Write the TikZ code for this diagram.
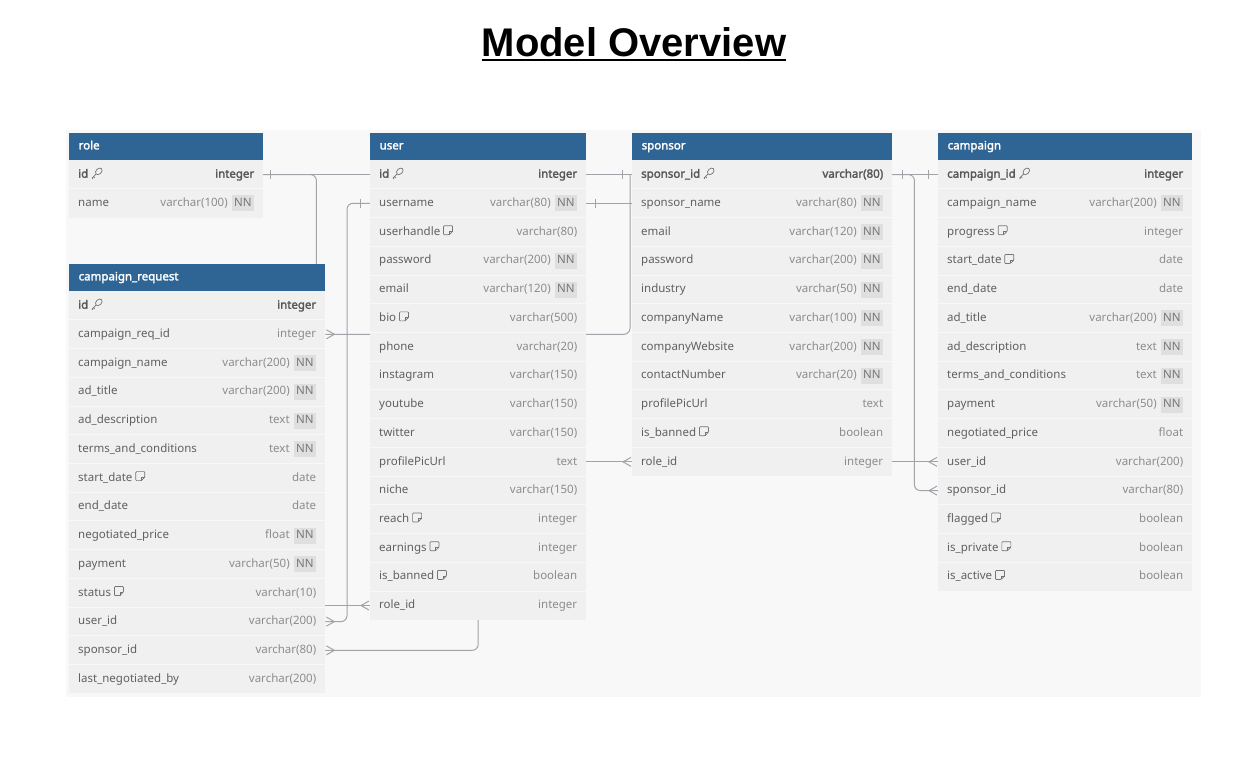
\documentclass[tikz,border=0pt]{standalone}
\usepackage{fontspec}
\setmainfont{Noto Sans}
\newfontfamily\notobold{Noto Sans}[FakeBold=2.2]
\newfontfamily\titlefont{Liberation Sans}
\usetikzlibrary{calc}
\pgfdeclarelayer{bgpage}
\pgfdeclarelayer{lines}
\pgfsetlayers{bgpage,lines,main}
\definecolor{hdrblue}{HTML}{2F6594}
\definecolor{bodyfill}{HTML}{F0F0F0}
\definecolor{pagefill}{HTML}{F8F8F8}
\definecolor{sepcol}{HTML}{F8F8F8}
\definecolor{namecol}{HTML}{606060}
\definecolor{typecol}{HTML}{8C8C8C}
\definecolor{pkcol}{HTML}{585858}
\definecolor{nnbg}{HTML}{DFDFDF}
\definecolor{nncol}{HTML}{777777}
\definecolor{iconcol}{HTML}{757575}
\definecolor{conncol}{HTML}{A0A4A8}
\catcode`\_=12
\tikzset{
  hdr/.style={fill=hdrblue, draw=none, inner sep=0pt, minimum height=27pt},
  hdrtext/.style={text=white, font=\fontsize{11.5}{14}\notobold, inner sep=0pt},
  rowbox/.style={fill=bodyfill, draw=none, inner sep=0pt, minimum height=28.73pt},
  sepline/.style={draw=sepcol, line width=0.8pt},
  fname/.style={text=namecol, font=\fontsize{11.5}{14}\selectfont, inner sep=0pt},
  ftype/.style={text=typecol, font=\fontsize{11.5}{14}\selectfont, inner sep=0pt},
  icon/.style={draw=iconcol, line width=0.7pt},
  conn/.style={draw=conncol, line width=1pt},
  crowR/.pic={\draw[conn] (0,-4.5) -- (8,0) -- (0,4.5);},
  crowL/.pic={\draw[conn] (0,-4.5) -- (-8,0) -- (0,4.5);},
  onetick/.pic={\draw[conn] (0,-4.5) -- (0,4.5);},
}
\newcommand\IKey{\hspace{3.5pt}\tikz[baseline=0pt,x=1pt,y=1pt]{\draw[icon, rotate around={45:(7.2,6.4)}] (7.2,6.4) ellipse[x radius=3.8, y radius=2.7]; \draw[icon] (4.6,3.8) -- (0.5,-0.3) -- (1.4,-1.2) (1.9,1.1) -- (3.2,-0.2);}}
\newcommand\INote{\hspace{3pt}\tikz[baseline=-0.5pt,x=1pt,y=1pt]{\draw[icon,rounded corners=0.8pt] (0,0) -- (0,9) -- (9,9) -- (9,3.5) -- (5.5,0) -- cycle; \draw[icon] (5.5,0) -- (5.5,3.5) -- (9,3.5);}}
\newcommand\INone{}
\newcommand\INN{\hspace{4pt}{\setlength\fboxsep{2.5pt}\colorbox{nnbg}{\color{nncol}\rule[-2.5pt]{0pt}{11pt}NN}}}
\newcommand\ertable[5]{%
  \node[hdr, minimum width=#4pt, anchor=north west] (#1) at (#2,#3) {};
  \node[hdrtext, anchor=mid west] (#1-t) at ([xshift=9.5pt]#1.west) {#1};
  \foreach \fn/\ft/\fa/\fb [count=\i] in {#5} {
    \pgfmathsetmacro\yy{#3+27+(\i-1)*28.73}
    \node[rowbox, minimum width=#4pt, anchor=north west] (#1-\fn) at (#2,\yy) {};
    \ifnum\i>1 \draw[sepline] (#1-\fn.north west) -- (#1-\fn.north east);\fi
    \ifnum\i=1 \def\ff{\notobold\color{pkcol}}\else\def\ff{}\fi
    \node[fname, anchor=mid west] (#1-\fn-n) at ([xshift=9pt,yshift=-0.5pt]#1-\fn.west) {\ff\fn\fa};
    \node[ftype, anchor=mid east] (#1-\fn-v) at ([xshift=-9pt,yshift=-0.5pt]#1-\fn.east) {\ff\ft\fb};
  }%
}
\begin{document}
\begin{tikzpicture}[x=1pt,y=-1pt]
\useasboundingbox (0,0) rectangle (1251,758);
\begin{pgfonlayer}{bgpage}
\fill[white] (0,0) rectangle (1251,758);
\fill[pagefill] (66,130) rectangle (1201,697);
\end{pgfonlayer}
\node[font=\titlefont\bfseries\fontsize{40}{46}\selectfont, inner sep=0pt, anchor=base] (title) at (634,56) {Model Overview};
\draw[line width=2.6pt] ([yshift=-4pt]title.base west) -- ([yshift=-4pt]title.base east);

\ertable{role}{69}{133}{194}{%
id/integer/\IKey/\INone,
name/varchar(100)/\INone/\INN}

\ertable{user}{370}{133}{216}{%
id/integer/\IKey/\INone,
username/varchar(80)/\INone/\INN,
userhandle/varchar(80)/\INote/\INone,
password/varchar(200)/\INone/\INN,
email/varchar(120)/\INone/\INN,
bio/varchar(500)/\INote/\INone,
phone/varchar(20)/\INone/\INone,
instagram/varchar(150)/\INone/\INone,
youtube/varchar(150)/\INone/\INone,
twitter/varchar(150)/\INone/\INone,
profilePicUrl/text/\INone/\INone,
niche/varchar(150)/\INone/\INone,
reach/integer/\INote/\INone,
earnings/integer/\INote/\INone,
is_banned/boolean/\INote/\INone,
role_id/integer/\INone/\INone}

\ertable{sponsor}{632}{133}{260}{%
sponsor_id/varchar(80)/\IKey/\INone,
sponsor_name/varchar(80)/\INone/\INN,
email/varchar(120)/\INone/\INN,
password/varchar(200)/\INone/\INN,
industry/varchar(50)/\INone/\INN,
companyName/varchar(100)/\INone/\INN,
companyWebsite/varchar(200)/\INone/\INN,
contactNumber/varchar(20)/\INone/\INN,
profilePicUrl/text/\INone/\INone,
is_banned/boolean/\INote/\INone,
role_id/integer/\INone/\INone}

\ertable{campaign}{938}{133}{254}{%
campaign_id/integer/\IKey/\INone,
campaign_name/varchar(200)/\INone/\INN,
progress/integer/\INote/\INone,
start_date/date/\INote/\INone,
end_date/date/\INone/\INone,
ad_title/varchar(200)/\INone/\INN,
ad_description/text/\INone/\INN,
terms_and_conditions/text/\INone/\INN,
payment/varchar(50)/\INone/\INN,
negotiated_price/float/\INone/\INone,
user_id/varchar(200)/\INone/\INone,
sponsor_id/varchar(80)/\INone/\INone,
flagged/boolean/\INote/\INone,
is_private/boolean/\INote/\INone,
is_active/boolean/\INote/\INone}

\ertable{campaign_request}{69}{264}{256}{%
id/integer/\IKey/\INone,
campaign_req_id/integer/\INone/\INone,
campaign_name/varchar(200)/\INone/\INN,
ad_title/varchar(200)/\INone/\INN,
ad_description/text/\INone/\INN,
terms_and_conditions/text/\INone/\INN,
start_date/date/\INote/\INone,
end_date/date/\INone/\INone,
negotiated_price/float/\INone/\INN,
payment/varchar(50)/\INone/\INN,
status/varchar(10)/\INote/\INone,
user_id/varchar(200)/\INone/\INone,
sponsor_id/varchar(80)/\INone/\INone,
last_negotiated_by/varchar(200)/\INone/\INone}

\begin{pgfonlayer}{lines}
\draw[conn] (role-id.east) -- (user-id.west);
\draw[conn, rounded corners=6pt] (role-id.east) -| ([xshift=-9pt]campaign_request.north east);
\draw[conn, rounded corners=6pt] (user-username.west) -- ++(-23,0) |- (campaign_request-user_id.east);
\draw[conn, rounded corners=6pt] (campaign_request-campaign_req_id.east) -| ([xshift=-2pt]sponsor-sponsor_id.west);
\draw[conn] (user-id.east) -- (sponsor-sponsor_id.west);
\draw[conn] (user-username.east) -- (sponsor-sponsor_name.west);
\draw[conn] (user-profilePicUrl.east) -- (sponsor-role_id.west);
\draw[conn] (user-role_id.west) -- (user-role_id.west -| campaign_request-status.east);
\draw[conn, rounded corners=6pt] (campaign_request-sponsor_id.east) -| (user-role_id.south);
\draw[conn] (sponsor-sponsor_id.east) -- (campaign-campaign_id.west);
\draw[conn, rounded corners=6pt] (sponsor-sponsor_id.east) -- ++(22,0) |- (campaign-sponsor_id.west);
\draw[conn] (sponsor-role_id.east) -- (campaign-user_id.west);
\end{pgfonlayer}

\pic at ([xshift=7pt]role-id.east) {onetick};
\pic at ([xshift=-10pt]user-username.west) {onetick};
\pic at ([xshift=-10pt]sponsor-sponsor_id.west) {onetick};
\pic at ([xshift=9pt]user-username.east) {onetick};
\pic at ([xshift=10pt]sponsor-sponsor_id.east) {onetick};
\pic at ([xshift=-10pt]campaign-campaign_id.west) {onetick};

\pic at ([xshift=1pt]campaign_request-campaign_req_id.east) {crowR};
\pic at ([xshift=1pt]campaign_request-user_id.east) {crowR};
\pic at ([xshift=1pt]campaign_request-sponsor_id.east) {crowR};
\pic at ([xshift=-1pt]sponsor-role_id.west) {crowL};
\pic at ([xshift=-1pt]user-role_id.west) {crowL};
\pic at ([xshift=-1pt]campaign-user_id.west) {crowL};
\pic at ([xshift=-1pt]campaign-sponsor_id.west) {crowL};
\end{tikzpicture}
\end{document}
